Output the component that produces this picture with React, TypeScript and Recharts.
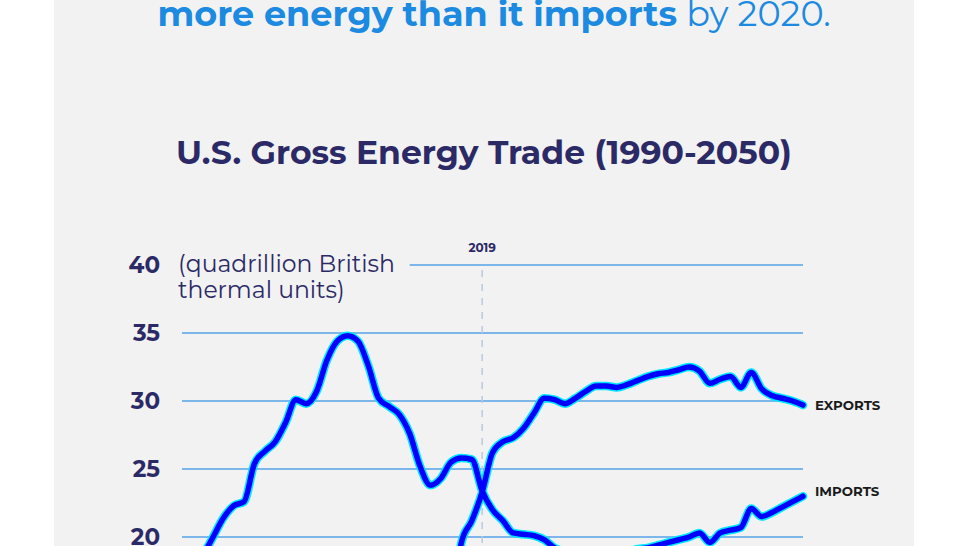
import React from "react";
import {
  LineChart,
  Line,
  XAxis,
  YAxis,
  ReferenceLine,
  LabelList,
} from "recharts";

// U.S. gross energy trade, quadrillion Btu (values below 20 sit outside the visible crop)
const years = [
  1990, 1991, 1992, 1993, 1994, 1995, 1996, 1997, 1998, 1999,
  2000, 2001, 2002, 2003, 2004, 2005, 2006, 2007, 2008, 2009,
  2010, 2011, 2012, 2013, 2014, 2015, 2016, 2017, 2018, 2019,
  2020, 2021, 2022, 2023, 2024, 2025, 2026, 2027, 2028, 2029,
  2030, 2031, 2032, 2033, 2034, 2035, 2036, 2037, 2038, 2039,
  2040, 2041, 2042, 2043, 2044, 2045, 2046, 2047, 2048, 2049, 2050,
];

const imports = [
  16.5, 17.2, 18.6, 20.0, 21.4, 22.3, 22.6, 25.4, 26.3, 27.0,
  28.4, 30.1, 29.8, 30.7, 33.0, 34.4, 34.8, 34.4, 32.6, 30.2,
  29.6, 29.0, 27.6, 25.2, 23.8, 24.3, 25.5, 25.8, 25.7, 23.4,
  22.0, 21.2, 20.3, 20.2, 20.1, 19.8, 19.2, 18.9, 18.7, 18.6,
  18.6, 18.7, 18.8, 18.9, 19.1, 19.2, 19.4, 19.6, 19.8, 20.0,
  20.3, 19.6, 20.3, 20.5, 20.7, 22.1, 21.5, 21.8, 22.2, 22.6, 23.0,
];

const exports = [
  4.9, 5.1, 4.9, 4.3, 4.1, 4.5, 4.6, 4.5, 4.3, 3.7,
  4.0, 3.8, 3.7, 4.1, 4.4, 4.6, 4.9, 5.4, 7.0, 6.9,
  8.2, 10.4, 11.3, 11.8, 12.3, 13.0, 14.7, 19.6, 21.2, 23.3,
  26.2, 27.0, 27.3, 28.0, 29.1, 30.2, 30.1, 29.8, 30.2, 30.7,
  31.1, 31.1, 31.0, 31.2, 31.5, 31.8, 32.0, 32.1, 32.3, 32.5,
  32.2, 31.3, 31.6, 31.8, 31.0, 32.1, 30.9, 30.4, 30.2, 30.0, 29.7,
];

const yTicks = [0, 5, 10, 15, 20, 25, 30, 35, 40];
const gridValues = [0, 5, 10, 15, 20, 25, 30, 35];

const data = years.map((year, i) => ({
  year,
  imports: imports[i],
  exports: exports[i],
}));

const NAVY = "#2b2a66";
const GRID = "#7db6ea";
const FONT = "Montserrat, 'Open Sans', Lato, sans-serif";

const endLabel = (text: string, dy: number) => (props: any) => {
  const { x, y, index } = props;
  if (index !== data.length - 1) return null;
  return (
    <text
      x={x + 12}
      y={y + dy}
      fontFamily={FONT}
      fontWeight={700}
      fontSize={13.3}
      fill="#1a1a1a"
    >
      {text}
    </text>
  );
};

export default function App() {
  return (
    <div
      style={{
        position: "absolute",
        left: 0,
        top: 0,
        width: 969,
        height: 546,
        overflow: "hidden",
        background: "#ffffff",
        fontFamily: FONT,
      }}
    >
      <div
        style={{
          position: "absolute",
          left: 54,
          top: 0,
          width: 860,
          height: 546,
          background: "#f2f2f2",
        }}
      />
      <div
        style={{
          position: "absolute",
          left: 64,
          width: 860,
          top: -8,
          textAlign: "center",
          fontSize: 35,
          color: "#1b8ae0",
          whiteSpace: "nowrap",
        }}
      >
        <span style={{ fontWeight: 700 }}>more energy than it imports</span>{" "}
        <span style={{ fontWeight: 400 }}>by 2020.</span>
      </div>
      <div
        style={{
          position: "absolute",
          left: 54,
          width: 860,
          top: 132,
          textAlign: "center",
          fontSize: 33,
          fontWeight: 700,
          color: NAVY,
          whiteSpace: "nowrap",
        }}
      >
        U.S. Gross Energy Trade (1990-2050)
      </div>
      <div
        style={{
          position: "absolute",
          left: 178,
          top: 251,
          fontSize: 23.5,
          lineHeight: "26px",
          color: NAVY,
        }}
      >
        (quadrillion British
        <br />
        thermal units)
      </div>
      <div style={{ position: "absolute", left: 0, top: 0 }}>
        <LineChart
          width={969}
          height={830}
          data={data}
          margin={{ top: 265, right: 166, bottom: 21, left: 0 }}
        >
          <XAxis dataKey="year" type="number" domain={[1990, 2050]} hide />
          <YAxis
            type="number"
            domain={[0, 40]}
            ticks={yTicks}
            width={182}
            axisLine={false}
            tickLine={false}
            tickSize={0}
            tickMargin={22}
            tick={{
              fill: NAVY,
              fontSize: 23,
              fontWeight: 700,
              fontFamily: FONT,
            }}
          />
          {gridValues.map((v) => (
            <ReferenceLine key={v} y={v} stroke={GRID} strokeWidth={2} />
          ))}
          <ReferenceLine
            segment={[
              { x: 2012, y: 40 },
              { x: 2050, y: 40 },
            ]}
            stroke={GRID}
            strokeWidth={2}
          />
          <ReferenceLine
            x={2019}
            stroke="#b9c9dd"
            strokeWidth={1.5}
            strokeDasharray="7 7"
            label={{
              value: "2019",
              position: "top",
              offset: 13,
              fill: NAVY,
              fontSize: 12,
              fontWeight: 700,
              fontFamily: FONT,
            }}
          />
          <Line
            dataKey="imports"
            type="monotone"
            stroke="#00e8ff"
            strokeWidth={8.5}
            dot={false}
            strokeLinecap="round"
            isAnimationActive={false}
          />
          <Line
            dataKey="exports"
            type="monotone"
            stroke="#00e8ff"
            strokeWidth={8.5}
            dot={false}
            strokeLinecap="round"
            isAnimationActive={false}
          />
          <Line
            dataKey="imports"
            type="monotone"
            stroke="#0000ff"
            strokeWidth={5.5}
            dot={false}
            strokeLinecap="round"
            isAnimationActive={false}
          >
            <LabelList dataKey="imports" content={endLabel("IMPORTS", 0)} />
          </Line>
          <Line
            dataKey="exports"
            type="monotone"
            stroke="#0000ff"
            strokeWidth={5.5}
            dot={false}
            strokeLinecap="round"
            isAnimationActive={false}
          >
            <LabelList dataKey="exports" content={endLabel("EXPORTS", 5)} />
          </Line>
        </LineChart>
      </div>
    </div>
  );
}
